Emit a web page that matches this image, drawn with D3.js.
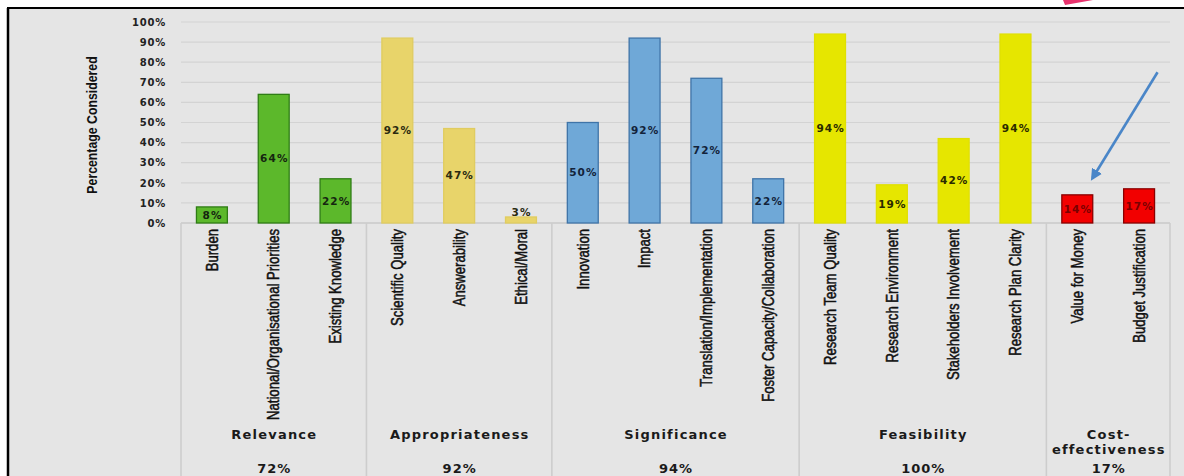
<!DOCTYPE html>
<html>
<head>
<meta charset="utf-8">
<script src="https://cdn.jsdelivr.net/npm/d3@7"></script>
<style>
  html, body { margin: 0; padding: 0; background: #ffffff; }
  svg { display: block; }
</style>
</head>
<body>
<svg id="chart" width="1184" height="476"></svg>
<script>
// ---------------- data ----------------
const groups = ["Relevance", "Appropriateness", "Significance", "Feasibility", "Cost-effectiveness"];
const groupLines = [["Relevance"], ["Appropriateness"], ["Significance"], ["Feasibility"], ["Cost-", "effectiveness"]];
const groupTotals = ["72%", "92%", "94%", "100%", "17%"];
const categories = [
  "Burden", "National/Organisational Priorities", "Existing Knowledge",
  "Scientific Quality", "Answerability", "Ethical/Moral",
  "Innovation", "Impact", "Translation/Implementation", "Foster Capacity/Collaboration",
  "Research Team Quality", "Research Environment", "Stakeholders Involvement", "Research Plan Clarity",
  "Value for Money", "Budget Justification"
];
const categoryGroup = [0, 0, 0, 1, 1, 1, 2, 2, 2, 2, 3, 3, 3, 3, 4, 4];
const values = [8, 64, 22, 92, 47, 3, 50, 92, 72, 22, 94, 19, 42, 94, 14, 17];
const valueLabels = ["8%", "64%", "22%", "92%", "47%", "3%", "50%", "92%", "72%", "22%", "94%", "19%", "42%", "94%", "14%", "17%"];
const yTicks = [0, 10, 20, 30, 40, 50, 60, 70, 80, 90, 100];

// styles per group
const groupFill = ["#5cb82b", "#e8d46a", "#6fa8d7", "#e6e600", "#f20000"];
const groupStroke = ["#2f7d15", "#e0cc60", "#3f74a8", "#e0e000", "#8a0000"];
const groupLabelColor = ["#152510", "#2a2a10", "#13233a", "#2a2a00", "#7a0000"];

// ---------------- layout ----------------
const svg = d3.select("#chart");
const plotLeft = 181, plotRight = 1170, plotTop = 22, plotBottom = 223;

// frame
svg.append("rect").attr("x", 8).attr("y", 8).attr("width", 1176).attr("height", 468).attr("fill", "#e5e5e5");
svg.append("line").attr("x1", 7).attr("x2", 1184).attr("y1", 8).attr("y2", 8).attr("stroke", "#000").attr("stroke-width", 2);
svg.append("line").attr("x1", 8).attr("x2", 8).attr("y1", 8).attr("y2", 476).attr("stroke", "#000").attr("stroke-width", 2.5);

// pink decorative arrow head (cut off at top)
svg.append("polygon").attr("points", "1063,0 1093,0 1065,5").attr("fill", "#e8336e");

const x = d3.scaleBand().domain(categories).range([plotLeft, plotRight]).paddingInner(0.5).paddingOuter(0.25);
const y = d3.scaleLinear().domain([0, 100]).range([plotBottom, plotTop]);

// gridlines
svg.append("g").selectAll("line").data(yTicks.filter(d => d > 0)).join("line")
  .attr("x1", plotLeft).attr("x2", plotRight)
  .attr("y1", d => y(d)).attr("y2", d => y(d))
  .attr("stroke", "#d3d3d3").attr("stroke-width", 1.2);

// y axis ticks (via d3 axis)
const yAxis = d3.axisLeft(y).tickValues(yTicks).tickFormat(d => d + "%").tickSize(0).tickPadding(0);
const yg = svg.append("g").attr("transform", `translate(${plotLeft - 15},0)`).call(yAxis);
yg.select(".domain").remove();
yg.selectAll("text")
  .attr("font-family", "DejaVu Sans, Verdana, sans-serif")
  .attr("font-weight", "bold").attr("font-size", 10)
  .attr("letter-spacing", "0.8px")
  .attr("fill", "#222");

// y axis title
svg.append("text")
  .attr("transform", `translate(97,125) rotate(-90) scale(0.82,1)`)
  .attr("text-anchor", "middle")
  .attr("font-family", "Liberation Sans, Arial, sans-serif")
  .attr("font-weight", "bold").attr("font-size", 15)
  .attr("fill", "#111")
  .text("Percentage Considered");

// baseline
svg.append("line").attr("x1", plotLeft).attr("x2", plotRight).attr("y1", plotBottom).attr("y2", plotBottom)
  .attr("stroke", "#c9c9c9").attr("stroke-width", 1.5);

// group dividers
const step = x.step();
const groupStart = groups.map((g, gi) => categoryGroup.indexOf(gi));
const groupEnd = groups.map((g, gi) => categoryGroup.lastIndexOf(gi) + 1);
const boundaries = [0].concat(groupEnd);
svg.append("g").selectAll("line").data(boundaries).join("line")
  .attr("x1", i => plotLeft + i * step).attr("x2", i => plotLeft + i * step)
  .attr("y1", plotBottom).attr("y2", 476)
  .attr("stroke", "#cdcdcd").attr("stroke-width", 1.6);

// bars
const data = categories.map((c, i) => ({ c, v: values[i], g: categoryGroup[i], label: valueLabels[i] }));
svg.append("g").selectAll("rect").data(data).join("rect")
  .attr("x", d => x(d.c))
  .attr("y", d => y(d.v))
  .attr("width", x.bandwidth())
  .attr("height", d => y(0) - y(d.v))
  .attr("fill", d => groupFill[d.g])
  .attr("stroke", d => groupStroke[d.g])
  .attr("stroke-width", 1.3);

// value labels
svg.append("g").selectAll("text").data(data).join("text")
  .attr("x", d => x(d.c) + x.bandwidth() / 2 + 0.6)
  .attr("y", d => d.v < 5 ? y(d.v) - 5 : (y(d.v) + y(0)) / 2)
  .attr("dy", "0.35em")
  .attr("text-anchor", "middle")
  .attr("font-family", "DejaVu Sans, Verdana, sans-serif")
  .attr("font-weight", "bold").attr("font-size", 10.5)
  .attr("letter-spacing", "1.1px")
  .attr("fill", d => groupLabelColor[d.g])
  .text(d => d.label);

// category labels (rotated)
svg.append("g").selectAll("text").data(data).join("text")
  .attr("transform", d => `translate(${x(d.c) + x.bandwidth() / 2},229) rotate(-90) scale(0.82,1)`)
  .attr("dy", "0.36em")
  .attr("text-anchor", "end")
  .attr("font-family", "Liberation Sans, Arial, sans-serif")
  .attr("font-size", 16)
  .attr("fill", "#111")
  .attr("stroke", "#111").attr("stroke-width", 0.5)
  .text(d => d.c);

// group names and totals
const gCenters = groups.map((g, gi) => plotLeft + (groupStart[gi] + groupEnd[gi]) / 2 * step);
const gg = svg.append("g");
groups.forEach((g, gi) => {
  const lines = groupLines[gi];
  lines.forEach((ln, li) => {
    gg.append("text")
      .attr("x", gCenters[gi] + 0.6)
      .attr("y", 439 + li * 15)
      .attr("text-anchor", "middle")
      .attr("font-family", "DejaVu Sans, Verdana, sans-serif")
      .attr("font-weight", "bold").attr("font-size", 13)
      .attr("letter-spacing", "1.2px")
      .attr("fill", "#1a1a1a")
      .text(ln);
  });
  gg.append("text")
    .attr("x", gCenters[gi] + 0.5)
    .attr("y", 473)
    .attr("text-anchor", "middle")
    .attr("font-family", "DejaVu Sans, Verdana, sans-serif")
    .attr("font-weight", "bold").attr("font-size", 13)
    .attr("letter-spacing", "1px")
    .attr("fill", "#1a1a1a")
    .text(groupTotals[gi]);
});

// blue annotation arrow pointing at "Value for Money"
const defs = svg.append("defs");
defs.append("marker").attr("id", "ah").attr("viewBox", "0 0 10 10").attr("refX", 7).attr("refY", 5)
  .attr("markerWidth", 4.5).attr("markerHeight", 4.5).attr("orient", "auto")
  .append("path").attr("d", "M0,0 L10,5 L0,10 z").attr("fill", "#4a86c8");
const vfm = "Value for Money", bj = "Budget Justification";
svg.append("line")
  .attr("x1", x(bj) + x.bandwidth() + 3).attr("y1", y(75))
  .attr("x2", x(vfm) + x.bandwidth()).attr("y2", y(22.5))
  .attr("stroke", "#4a86c8").attr("stroke-width", 2.6)
  .attr("marker-end", "url(#ah)");
</script>
</body>
</html>
